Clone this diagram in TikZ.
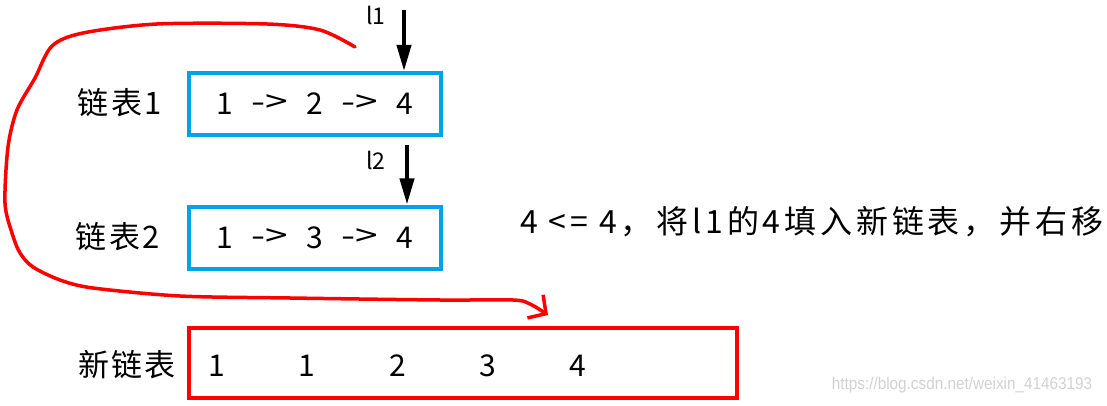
\documentclass[tikz,border=0pt]{standalone}
\usepackage{fontspec}
\setmainfont{Noto Sans CJK SC}
\newfontfamily\wmfont{Liberation Sans}
\newfontfamily\spacedfont[LetterSpace=12]{Noto Sans CJK SC}
\newfontfamily\lblfont[LetterSpace=8]{Noto Sans CJK SC}
\usetikzlibrary{arrows.meta}
\definecolor{pblue}{HTML}{00A2E8}
\definecolor{pred}{HTML}{FF0000}
\tikzset{
  listbox/.style={draw=pblue, line width=4pt, minimum width=252pt, minimum height=62pt, inner sep=0pt},
  newbox/.style={draw=pred, line width=4pt, minimum width=548pt, minimum height=70pt, inner sep=0pt},
  lbl/.style={font=\lblfont\fontsize{31}{33}\selectfont, inner sep=0pt},
  num/.style={font=\fontsize{30}{32}\selectfont, inner sep=0pt},
  ptr/.style={line width=4pt, -{Triangle[width=14pt,length=26pt]}},
  ptrlbl/.style={font=\fontsize{23}{25}\selectfont, inner sep=0pt},
  redcurve/.style={draw=pred, line width=3.5pt, line cap=round, line join=round, -{Straight Barb[length=13pt,width=28pt,line width=3.5pt]}},
}
\newcommand{\arr}{\scalebox{1.35}[1]{->}}
\begin{document}
\begin{tikzpicture}[x=1pt,y=-1pt]
\useasboundingbox (0,0) rectangle (1107,406);
% lists
\node[listbox] (b1) at (315,104) {};
\node[listbox] (b2) at (315,237.5) {};
\node[newbox] (nb) at (463,363) {};
% list contents
\node[num] (a1) at (225,104) {1};
\node[num] (a2) at (270,104) {\arr};
\node[num] (a3) at (315,104) {2};
\node[num] (a4) at (360,104) {\arr};
\node[num] (a5) at (405,104) {4};
\node[num] (c1) at (225,238) {1};
\node[num] (c2) at (270,238) {\arr};
\node[num] (c3) at (315,238) {3};
\node[num] (c4) at (360,238) {\arr};
\node[num] (c5) at (405,238) {4};
% labels
\node[lbl] (t1) at (120,103) {链表1};
\node[lbl] (t2) at (118,237) {链表2};
\node[lbl] (t3) at (127,365) {新链表};
% new list numbers
\node[num] (n1) at (217,366) {1};
\node[num] (n2) at (307,366) {1};
\node[num] (n3) at (398,366) {2};
\node[num] (n4) at (488,366) {3};
\node[num] (n5) at (578,366) {4};
% pointers
\coordinate (p1) at (404,10);
\coordinate (p2) at (407,145);
\draw[ptr] (p1) -- (p1 |- b1.north);
\draw[ptr] (p2) -- (p2 |- b2.north);
\node[ptrlbl] (l1) at (376,15) {l1};
\node[ptrlbl] (l2) at (376,160) {l2};
% description
\node[font=\spacedfont\fontsize{32}{34}\selectfont, inner sep=0pt, anchor=west] (desc) at (520,222) {4 <= 4，将l1的4填入新链表，并右移};
% red curve
\coordinate (cs) at (355,47);
\coordinate (ce) at (548,315);
\draw[redcurve] plot[smooth, tension=0.5] coordinates {(cs) (320,30) (267,24) (157,24) (83,33) (52,46) (35,78) (17,110) (8,147) (5,203) (12,233) (20,253) (33,267) (60,280) (93,288) (180,296) (290,298) (440,300) (513,300) (530,304) (ce)};
% watermark
\node[font=\wmfont\fontsize{17}{19}\selectfont, text=black!18, inner sep=0pt, xscale=0.9] (wm) at (962,385) {https://blog.csdn.net/weixin\_41463193};
\end{tikzpicture}
\end{document}
